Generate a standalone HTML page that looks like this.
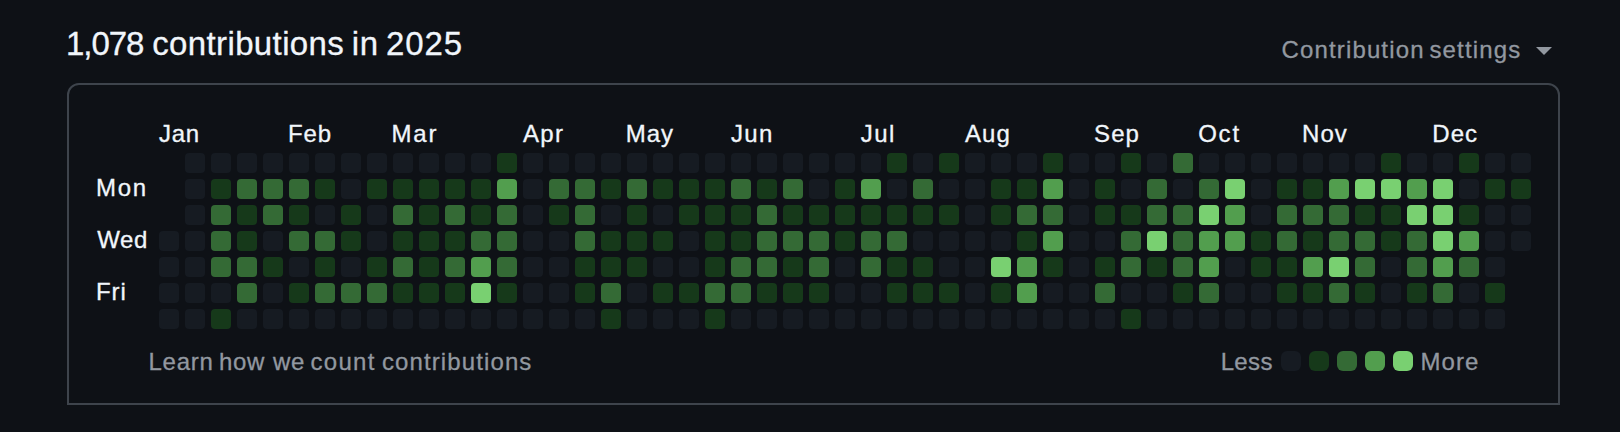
<!DOCTYPE html>
<html lang="en"><head><meta charset="utf-8"><title>Contributions</title>
<style>
html,body{margin:0;padding:0;background:#0e1116;}
body{width:1620px;height:432px;position:relative;overflow:hidden;font-family:"Liberation Sans",Arial,sans-serif;color:#f1f6fb;}
.g{position:absolute;left:0;margin:0;font-weight:400;line-height:1;white-space:nowrap;width:1620px;height:0;}
.g span{position:absolute;top:0;white-space:nowrap;-webkit-text-stroke:0.3px currentColor;}
.mut{color:#9298a0;}
.caret{position:absolute;left:1536px;top:47px;width:0;height:0;border-left:8px solid transparent;border-right:8px solid transparent;border-top:8px solid #9298a0;}
.box{position:absolute;left:67px;top:83px;width:1489px;height:318px;border:2px solid #3e444c;border-radius:12px 12px 0 0;}
.c{position:absolute;width:20px;height:20px;border-radius:4px;display:block;}
.k{border-radius:6px;}
.l0{background:#161b22;}.l1{background:#16391a;}.l2{background:#346a35;}.l3{background:#529e4e;}.l4{background:#79d071;}
</style></head><body>
<h2 class="g h2" id="h" style="top:27px;font-size:33px"><span style="left:66.05px;letter-spacing:-1.053px">1,078</span> <span style="left:152.20px;letter-spacing:0.375px">contributions</span> <span style="left:351.83px;letter-spacing:0.659px">in</span> <span style="left:386.01px;letter-spacing:0.857px">2025</span></h2>
<div class="g mut" id="set" style="top:38px;font-size:24px"><span style="left:1281.59px;letter-spacing:1.135px">Contribution</span> <span style="left:1429.41px;letter-spacing:1.178px">settings</span></div>
<span class="caret"></span>
<div class="box"></div>
<div class="g mut" id="learn" style="top:350px;font-size:24px"><span style="left:148.45px;letter-spacing:0.754px">Learn</span> <span style="left:218.89px;letter-spacing:0.766px">how</span> <span style="left:272.93px;letter-spacing:0.810px">we</span> <span style="left:310.57px;letter-spacing:1.266px">count</span> <span style="left:381.97px;letter-spacing:1.110px">contributions</span></div>
<div class="g mut" id="less" style="top:350px;font-size:24px"><span style="left:1220.65px;letter-spacing:0.366px">Less</span></div>
<div class="g mut" id="more" style="top:350px;font-size:24px"><span style="left:1420.55px;letter-spacing:1.027px">More</span></div>
<div class="g fg" id="mon" style="top:176px;font-size:24px"><span style="left:96.05px;letter-spacing:1.735px">Mon</span></div>
<div class="g fg" id="wed" style="top:228px;font-size:24px"><span style="left:97.18px;letter-spacing:0.593px">Wed</span></div>
<div class="g fg" id="fri" style="top:280px;font-size:24px"><span style="left:96.05px;letter-spacing:0.908px">Fri</span></div>
<div class="g fg" id="mJan" style="top:122px;font-size:24px"><span style="left:158.99px;letter-spacing:0.769px">Jan</span></div>
<div class="g fg" id="mFeb" style="top:122px;font-size:24px"><span style="left:288.05px;letter-spacing:0.882px">Feb</span></div>
<div class="g fg" id="mMar" style="top:122px;font-size:24px"><span style="left:391.55px;letter-spacing:1.787px">Mar</span></div>
<div class="g fg" id="mApr" style="top:122px;font-size:24px"><span style="left:522.99px;letter-spacing:1.269px">Apr</span></div>
<div class="g fg" id="mMay" style="top:122px;font-size:24px"><span style="left:625.75px;letter-spacing:0.937px">May</span></div>
<div class="g fg" id="mJun" style="top:122px;font-size:24px"><span style="left:730.89px;letter-spacing:1.369px">Jun</span></div>
<div class="g fg" id="mJul" style="top:122px;font-size:24px"><span style="left:860.69px;letter-spacing:1.506px">Jul</span></div>
<div class="g fg" id="mAug" style="top:122px;font-size:24px"><span style="left:964.99px;letter-spacing:1.104px">Aug</span></div>
<div class="g fg" id="mSep" style="top:122px;font-size:24px"><span style="left:1094.12px;letter-spacing:1.028px">Sep</span></div>
<div class="g fg" id="mOct" style="top:122px;font-size:24px"><span style="left:1198.15px;letter-spacing:1.797px">Oct</span></div>
<div class="g fg" id="mNov" style="top:122px;font-size:24px"><span style="left:1302.05px;letter-spacing:0.998px">Nov</span></div>
<div class="g fg" id="mDec" style="top:122px;font-size:24px"><span style="left:1432.35px;letter-spacing:1.038px">Dec</span></div>
<i class="c l0" style="left:185px;top:153px"></i><i class="c l0" style="left:211px;top:153px"></i><i class="c l0" style="left:237px;top:153px"></i><i class="c l0" style="left:263px;top:153px"></i><i class="c l0" style="left:289px;top:153px"></i><i class="c l0" style="left:315px;top:153px"></i><i class="c l0" style="left:341px;top:153px"></i><i class="c l0" style="left:367px;top:153px"></i><i class="c l0" style="left:393px;top:153px"></i><i class="c l0" style="left:419px;top:153px"></i><i class="c l0" style="left:445px;top:153px"></i><i class="c l0" style="left:471px;top:153px"></i><i class="c l1" style="left:497px;top:153px"></i><i class="c l0" style="left:523px;top:153px"></i><i class="c l0" style="left:549px;top:153px"></i><i class="c l0" style="left:575px;top:153px"></i><i class="c l0" style="left:601px;top:153px"></i><i class="c l0" style="left:627px;top:153px"></i><i class="c l0" style="left:653px;top:153px"></i><i class="c l0" style="left:679px;top:153px"></i><i class="c l0" style="left:705px;top:153px"></i><i class="c l0" style="left:731px;top:153px"></i><i class="c l0" style="left:757px;top:153px"></i><i class="c l0" style="left:783px;top:153px"></i><i class="c l0" style="left:809px;top:153px"></i><i class="c l0" style="left:835px;top:153px"></i><i class="c l0" style="left:861px;top:153px"></i><i class="c l1" style="left:887px;top:153px"></i><i class="c l0" style="left:913px;top:153px"></i><i class="c l1" style="left:939px;top:153px"></i><i class="c l0" style="left:965px;top:153px"></i><i class="c l0" style="left:991px;top:153px"></i><i class="c l0" style="left:1017px;top:153px"></i><i class="c l1" style="left:1043px;top:153px"></i><i class="c l0" style="left:1069px;top:153px"></i><i class="c l0" style="left:1095px;top:153px"></i><i class="c l1" style="left:1121px;top:153px"></i><i class="c l0" style="left:1147px;top:153px"></i><i class="c l2" style="left:1173px;top:153px"></i><i class="c l0" style="left:1199px;top:153px"></i><i class="c l0" style="left:1225px;top:153px"></i><i class="c l0" style="left:1251px;top:153px"></i><i class="c l0" style="left:1277px;top:153px"></i><i class="c l0" style="left:1303px;top:153px"></i><i class="c l0" style="left:1329px;top:153px"></i><i class="c l0" style="left:1355px;top:153px"></i><i class="c l1" style="left:1381px;top:153px"></i><i class="c l0" style="left:1407px;top:153px"></i><i class="c l0" style="left:1433px;top:153px"></i><i class="c l1" style="left:1459px;top:153px"></i><i class="c l0" style="left:1485px;top:153px"></i><i class="c l0" style="left:1511px;top:153px"></i><i class="c l0" style="left:185px;top:179px"></i><i class="c l1" style="left:211px;top:179px"></i><i class="c l2" style="left:237px;top:179px"></i><i class="c l2" style="left:263px;top:179px"></i><i class="c l2" style="left:289px;top:179px"></i><i class="c l1" style="left:315px;top:179px"></i><i class="c l0" style="left:341px;top:179px"></i><i class="c l1" style="left:367px;top:179px"></i><i class="c l1" style="left:393px;top:179px"></i><i class="c l1" style="left:419px;top:179px"></i><i class="c l1" style="left:445px;top:179px"></i><i class="c l1" style="left:471px;top:179px"></i><i class="c l3" style="left:497px;top:179px"></i><i class="c l0" style="left:523px;top:179px"></i><i class="c l2" style="left:549px;top:179px"></i><i class="c l2" style="left:575px;top:179px"></i><i class="c l1" style="left:601px;top:179px"></i><i class="c l2" style="left:627px;top:179px"></i><i class="c l1" style="left:653px;top:179px"></i><i class="c l1" style="left:679px;top:179px"></i><i class="c l1" style="left:705px;top:179px"></i><i class="c l2" style="left:731px;top:179px"></i><i class="c l1" style="left:757px;top:179px"></i><i class="c l2" style="left:783px;top:179px"></i><i class="c l0" style="left:809px;top:179px"></i><i class="c l1" style="left:835px;top:179px"></i><i class="c l3" style="left:861px;top:179px"></i><i class="c l0" style="left:887px;top:179px"></i><i class="c l2" style="left:913px;top:179px"></i><i class="c l0" style="left:939px;top:179px"></i><i class="c l0" style="left:965px;top:179px"></i><i class="c l1" style="left:991px;top:179px"></i><i class="c l1" style="left:1017px;top:179px"></i><i class="c l3" style="left:1043px;top:179px"></i><i class="c l0" style="left:1069px;top:179px"></i><i class="c l1" style="left:1095px;top:179px"></i><i class="c l0" style="left:1121px;top:179px"></i><i class="c l2" style="left:1147px;top:179px"></i><i class="c l0" style="left:1173px;top:179px"></i><i class="c l2" style="left:1199px;top:179px"></i><i class="c l4" style="left:1225px;top:179px"></i><i class="c l0" style="left:1251px;top:179px"></i><i class="c l1" style="left:1277px;top:179px"></i><i class="c l1" style="left:1303px;top:179px"></i><i class="c l3" style="left:1329px;top:179px"></i><i class="c l4" style="left:1355px;top:179px"></i><i class="c l4" style="left:1381px;top:179px"></i><i class="c l3" style="left:1407px;top:179px"></i><i class="c l4" style="left:1433px;top:179px"></i><i class="c l0" style="left:1459px;top:179px"></i><i class="c l1" style="left:1485px;top:179px"></i><i class="c l1" style="left:1511px;top:179px"></i><i class="c l0" style="left:185px;top:205px"></i><i class="c l2" style="left:211px;top:205px"></i><i class="c l1" style="left:237px;top:205px"></i><i class="c l2" style="left:263px;top:205px"></i><i class="c l1" style="left:289px;top:205px"></i><i class="c l0" style="left:315px;top:205px"></i><i class="c l1" style="left:341px;top:205px"></i><i class="c l0" style="left:367px;top:205px"></i><i class="c l2" style="left:393px;top:205px"></i><i class="c l1" style="left:419px;top:205px"></i><i class="c l2" style="left:445px;top:205px"></i><i class="c l1" style="left:471px;top:205px"></i><i class="c l2" style="left:497px;top:205px"></i><i class="c l0" style="left:523px;top:205px"></i><i class="c l1" style="left:549px;top:205px"></i><i class="c l2" style="left:575px;top:205px"></i><i class="c l0" style="left:601px;top:205px"></i><i class="c l1" style="left:627px;top:205px"></i><i class="c l0" style="left:653px;top:205px"></i><i class="c l1" style="left:679px;top:205px"></i><i class="c l1" style="left:705px;top:205px"></i><i class="c l1" style="left:731px;top:205px"></i><i class="c l2" style="left:757px;top:205px"></i><i class="c l1" style="left:783px;top:205px"></i><i class="c l1" style="left:809px;top:205px"></i><i class="c l1" style="left:835px;top:205px"></i><i class="c l1" style="left:861px;top:205px"></i><i class="c l1" style="left:887px;top:205px"></i><i class="c l1" style="left:913px;top:205px"></i><i class="c l1" style="left:939px;top:205px"></i><i class="c l0" style="left:965px;top:205px"></i><i class="c l1" style="left:991px;top:205px"></i><i class="c l2" style="left:1017px;top:205px"></i><i class="c l2" style="left:1043px;top:205px"></i><i class="c l0" style="left:1069px;top:205px"></i><i class="c l1" style="left:1095px;top:205px"></i><i class="c l1" style="left:1121px;top:205px"></i><i class="c l2" style="left:1147px;top:205px"></i><i class="c l2" style="left:1173px;top:205px"></i><i class="c l4" style="left:1199px;top:205px"></i><i class="c l3" style="left:1225px;top:205px"></i><i class="c l0" style="left:1251px;top:205px"></i><i class="c l2" style="left:1277px;top:205px"></i><i class="c l2" style="left:1303px;top:205px"></i><i class="c l2" style="left:1329px;top:205px"></i><i class="c l1" style="left:1355px;top:205px"></i><i class="c l1" style="left:1381px;top:205px"></i><i class="c l4" style="left:1407px;top:205px"></i><i class="c l4" style="left:1433px;top:205px"></i><i class="c l1" style="left:1459px;top:205px"></i><i class="c l0" style="left:1485px;top:205px"></i><i class="c l0" style="left:1511px;top:205px"></i><i class="c l0" style="left:159px;top:231px"></i><i class="c l0" style="left:185px;top:231px"></i><i class="c l2" style="left:211px;top:231px"></i><i class="c l1" style="left:237px;top:231px"></i><i class="c l0" style="left:263px;top:231px"></i><i class="c l2" style="left:289px;top:231px"></i><i class="c l2" style="left:315px;top:231px"></i><i class="c l1" style="left:341px;top:231px"></i><i class="c l0" style="left:367px;top:231px"></i><i class="c l1" style="left:393px;top:231px"></i><i class="c l1" style="left:419px;top:231px"></i><i class="c l1" style="left:445px;top:231px"></i><i class="c l2" style="left:471px;top:231px"></i><i class="c l2" style="left:497px;top:231px"></i><i class="c l0" style="left:523px;top:231px"></i><i class="c l0" style="left:549px;top:231px"></i><i class="c l2" style="left:575px;top:231px"></i><i class="c l1" style="left:601px;top:231px"></i><i class="c l1" style="left:627px;top:231px"></i><i class="c l1" style="left:653px;top:231px"></i><i class="c l0" style="left:679px;top:231px"></i><i class="c l1" style="left:705px;top:231px"></i><i class="c l1" style="left:731px;top:231px"></i><i class="c l2" style="left:757px;top:231px"></i><i class="c l2" style="left:783px;top:231px"></i><i class="c l2" style="left:809px;top:231px"></i><i class="c l1" style="left:835px;top:231px"></i><i class="c l2" style="left:861px;top:231px"></i><i class="c l2" style="left:887px;top:231px"></i><i class="c l0" style="left:913px;top:231px"></i><i class="c l0" style="left:939px;top:231px"></i><i class="c l0" style="left:965px;top:231px"></i><i class="c l0" style="left:991px;top:231px"></i><i class="c l1" style="left:1017px;top:231px"></i><i class="c l3" style="left:1043px;top:231px"></i><i class="c l0" style="left:1069px;top:231px"></i><i class="c l0" style="left:1095px;top:231px"></i><i class="c l2" style="left:1121px;top:231px"></i><i class="c l4" style="left:1147px;top:231px"></i><i class="c l2" style="left:1173px;top:231px"></i><i class="c l3" style="left:1199px;top:231px"></i><i class="c l3" style="left:1225px;top:231px"></i><i class="c l1" style="left:1251px;top:231px"></i><i class="c l2" style="left:1277px;top:231px"></i><i class="c l1" style="left:1303px;top:231px"></i><i class="c l2" style="left:1329px;top:231px"></i><i class="c l2" style="left:1355px;top:231px"></i><i class="c l1" style="left:1381px;top:231px"></i><i class="c l2" style="left:1407px;top:231px"></i><i class="c l4" style="left:1433px;top:231px"></i><i class="c l3" style="left:1459px;top:231px"></i><i class="c l0" style="left:1485px;top:231px"></i><i class="c l0" style="left:1511px;top:231px"></i><i class="c l0" style="left:159px;top:257px"></i><i class="c l0" style="left:185px;top:257px"></i><i class="c l2" style="left:211px;top:257px"></i><i class="c l2" style="left:237px;top:257px"></i><i class="c l1" style="left:263px;top:257px"></i><i class="c l0" style="left:289px;top:257px"></i><i class="c l1" style="left:315px;top:257px"></i><i class="c l0" style="left:341px;top:257px"></i><i class="c l1" style="left:367px;top:257px"></i><i class="c l2" style="left:393px;top:257px"></i><i class="c l1" style="left:419px;top:257px"></i><i class="c l2" style="left:445px;top:257px"></i><i class="c l3" style="left:471px;top:257px"></i><i class="c l2" style="left:497px;top:257px"></i><i class="c l0" style="left:523px;top:257px"></i><i class="c l0" style="left:549px;top:257px"></i><i class="c l1" style="left:575px;top:257px"></i><i class="c l1" style="left:601px;top:257px"></i><i class="c l1" style="left:627px;top:257px"></i><i class="c l0" style="left:653px;top:257px"></i><i class="c l0" style="left:679px;top:257px"></i><i class="c l1" style="left:705px;top:257px"></i><i class="c l2" style="left:731px;top:257px"></i><i class="c l2" style="left:757px;top:257px"></i><i class="c l1" style="left:783px;top:257px"></i><i class="c l2" style="left:809px;top:257px"></i><i class="c l0" style="left:835px;top:257px"></i><i class="c l2" style="left:861px;top:257px"></i><i class="c l1" style="left:887px;top:257px"></i><i class="c l1" style="left:913px;top:257px"></i><i class="c l0" style="left:939px;top:257px"></i><i class="c l0" style="left:965px;top:257px"></i><i class="c l4" style="left:991px;top:257px"></i><i class="c l3" style="left:1017px;top:257px"></i><i class="c l1" style="left:1043px;top:257px"></i><i class="c l0" style="left:1069px;top:257px"></i><i class="c l1" style="left:1095px;top:257px"></i><i class="c l2" style="left:1121px;top:257px"></i><i class="c l1" style="left:1147px;top:257px"></i><i class="c l2" style="left:1173px;top:257px"></i><i class="c l3" style="left:1199px;top:257px"></i><i class="c l0" style="left:1225px;top:257px"></i><i class="c l1" style="left:1251px;top:257px"></i><i class="c l1" style="left:1277px;top:257px"></i><i class="c l3" style="left:1303px;top:257px"></i><i class="c l4" style="left:1329px;top:257px"></i><i class="c l2" style="left:1355px;top:257px"></i><i class="c l0" style="left:1381px;top:257px"></i><i class="c l2" style="left:1407px;top:257px"></i><i class="c l3" style="left:1433px;top:257px"></i><i class="c l2" style="left:1459px;top:257px"></i><i class="c l0" style="left:1485px;top:257px"></i><i class="c l0" style="left:159px;top:283px"></i><i class="c l0" style="left:185px;top:283px"></i><i class="c l0" style="left:211px;top:283px"></i><i class="c l2" style="left:237px;top:283px"></i><i class="c l0" style="left:263px;top:283px"></i><i class="c l1" style="left:289px;top:283px"></i><i class="c l2" style="left:315px;top:283px"></i><i class="c l2" style="left:341px;top:283px"></i><i class="c l2" style="left:367px;top:283px"></i><i class="c l1" style="left:393px;top:283px"></i><i class="c l1" style="left:419px;top:283px"></i><i class="c l1" style="left:445px;top:283px"></i><i class="c l4" style="left:471px;top:283px"></i><i class="c l1" style="left:497px;top:283px"></i><i class="c l0" style="left:523px;top:283px"></i><i class="c l0" style="left:549px;top:283px"></i><i class="c l1" style="left:575px;top:283px"></i><i class="c l2" style="left:601px;top:283px"></i><i class="c l0" style="left:627px;top:283px"></i><i class="c l1" style="left:653px;top:283px"></i><i class="c l1" style="left:679px;top:283px"></i><i class="c l2" style="left:705px;top:283px"></i><i class="c l2" style="left:731px;top:283px"></i><i class="c l1" style="left:757px;top:283px"></i><i class="c l1" style="left:783px;top:283px"></i><i class="c l1" style="left:809px;top:283px"></i><i class="c l0" style="left:835px;top:283px"></i><i class="c l0" style="left:861px;top:283px"></i><i class="c l1" style="left:887px;top:283px"></i><i class="c l1" style="left:913px;top:283px"></i><i class="c l1" style="left:939px;top:283px"></i><i class="c l0" style="left:965px;top:283px"></i><i class="c l1" style="left:991px;top:283px"></i><i class="c l3" style="left:1017px;top:283px"></i><i class="c l0" style="left:1043px;top:283px"></i><i class="c l0" style="left:1069px;top:283px"></i><i class="c l2" style="left:1095px;top:283px"></i><i class="c l0" style="left:1121px;top:283px"></i><i class="c l0" style="left:1147px;top:283px"></i><i class="c l1" style="left:1173px;top:283px"></i><i class="c l2" style="left:1199px;top:283px"></i><i class="c l0" style="left:1225px;top:283px"></i><i class="c l0" style="left:1251px;top:283px"></i><i class="c l1" style="left:1277px;top:283px"></i><i class="c l1" style="left:1303px;top:283px"></i><i class="c l2" style="left:1329px;top:283px"></i><i class="c l1" style="left:1355px;top:283px"></i><i class="c l0" style="left:1381px;top:283px"></i><i class="c l1" style="left:1407px;top:283px"></i><i class="c l2" style="left:1433px;top:283px"></i><i class="c l0" style="left:1459px;top:283px"></i><i class="c l1" style="left:1485px;top:283px"></i><i class="c l0" style="left:159px;top:309px"></i><i class="c l0" style="left:185px;top:309px"></i><i class="c l1" style="left:211px;top:309px"></i><i class="c l0" style="left:237px;top:309px"></i><i class="c l0" style="left:263px;top:309px"></i><i class="c l0" style="left:289px;top:309px"></i><i class="c l0" style="left:315px;top:309px"></i><i class="c l0" style="left:341px;top:309px"></i><i class="c l0" style="left:367px;top:309px"></i><i class="c l0" style="left:393px;top:309px"></i><i class="c l0" style="left:419px;top:309px"></i><i class="c l0" style="left:445px;top:309px"></i><i class="c l0" style="left:471px;top:309px"></i><i class="c l0" style="left:497px;top:309px"></i><i class="c l0" style="left:523px;top:309px"></i><i class="c l0" style="left:549px;top:309px"></i><i class="c l0" style="left:575px;top:309px"></i><i class="c l1" style="left:601px;top:309px"></i><i class="c l0" style="left:627px;top:309px"></i><i class="c l0" style="left:653px;top:309px"></i><i class="c l0" style="left:679px;top:309px"></i><i class="c l1" style="left:705px;top:309px"></i><i class="c l0" style="left:731px;top:309px"></i><i class="c l0" style="left:757px;top:309px"></i><i class="c l0" style="left:783px;top:309px"></i><i class="c l0" style="left:809px;top:309px"></i><i class="c l0" style="left:835px;top:309px"></i><i class="c l0" style="left:861px;top:309px"></i><i class="c l0" style="left:887px;top:309px"></i><i class="c l0" style="left:913px;top:309px"></i><i class="c l0" style="left:939px;top:309px"></i><i class="c l0" style="left:965px;top:309px"></i><i class="c l0" style="left:991px;top:309px"></i><i class="c l0" style="left:1017px;top:309px"></i><i class="c l0" style="left:1043px;top:309px"></i><i class="c l0" style="left:1069px;top:309px"></i><i class="c l0" style="left:1095px;top:309px"></i><i class="c l1" style="left:1121px;top:309px"></i><i class="c l0" style="left:1147px;top:309px"></i><i class="c l0" style="left:1173px;top:309px"></i><i class="c l0" style="left:1199px;top:309px"></i><i class="c l0" style="left:1225px;top:309px"></i><i class="c l0" style="left:1251px;top:309px"></i><i class="c l0" style="left:1277px;top:309px"></i><i class="c l0" style="left:1303px;top:309px"></i><i class="c l0" style="left:1329px;top:309px"></i><i class="c l0" style="left:1355px;top:309px"></i><i class="c l0" style="left:1381px;top:309px"></i><i class="c l0" style="left:1407px;top:309px"></i><i class="c l0" style="left:1433px;top:309px"></i><i class="c l0" style="left:1459px;top:309px"></i><i class="c l0" style="left:1485px;top:309px"></i>
<i class="c k l0" style="left:1281px;top:351px"></i><i class="c k l1" style="left:1309px;top:351px"></i><i class="c k l2" style="left:1337px;top:351px"></i><i class="c k l3" style="left:1365px;top:351px"></i><i class="c k l4" style="left:1393px;top:351px"></i>
</body></html>
